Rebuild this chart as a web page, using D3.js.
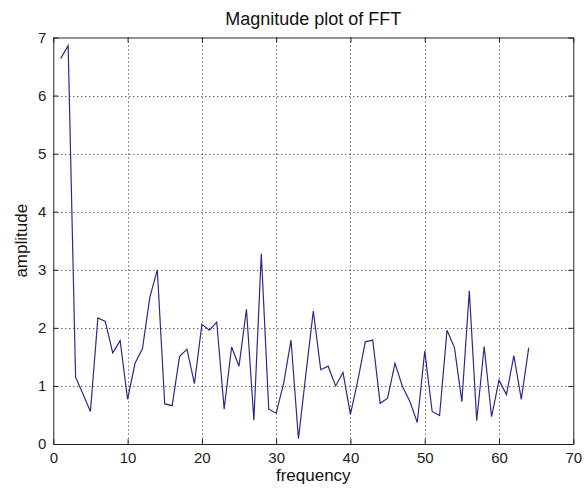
<!DOCTYPE html>
<html>
<head>
<meta charset="utf-8">
<script src="https://cdn.jsdelivr.net/npm/d3@7"></script>
<style>
  body { margin: 0; background: #fff; }
  svg { display: block; font-family: "Liberation Sans", Arial, sans-serif; }
</style>
</head>
<body>
<svg id="chart" width="586" height="491"></svg>
<script>
// frequency bins and FFT magnitude
let frequency = [1, 2, 3, 4, 5, 6, 7, 8, 9, 10, 11, 12, 13, 14, 15, 16,
  17, 18, 19, 20, 21, 22, 23, 24, 25, 26, 27, 28, 29, 30, 31, 32,
  33, 34, 35, 36, 37, 38, 39, 40, 41, 42, 43, 44, 45, 46, 47, 48,
  49, 50, 51, 52, 53, 54, 55, 56, 57, 58, 59, 60, 61, 62, 63, 64];
let amplitude = [6.64, 6.86, 1.15, 0.86, 0.56, 2.17, 2.11, 1.57, 1.78, 0.77, 1.39, 1.64, 2.53, 3.00, 0.69, 0.66,
  1.51, 1.63, 1.04, 2.06, 1.96, 2.10, 0.60, 1.67, 1.34, 2.32, 0.41, 3.28, 0.60, 0.53, 1.04, 1.79,
  0.09, 1.20, 2.29, 1.28, 1.34, 1.00, 1.23, 0.51, 1.10, 1.76, 1.79, 0.70, 0.79, 1.39, 0.99, 0.73,
  0.37, 1.60, 0.56, 0.49, 1.96, 1.66, 0.73, 2.64, 0.40, 1.68, 0.47, 1.10, 0.85, 1.52, 0.77, 1.66];

let xTicks = [0, 10, 20, 30, 40, 50, 60, 70];
let yTicks = [0, 1, 2, 3, 4, 5, 6, 7];

let titleText = 'Magnitude plot of FFT';
let xLabel = 'frequency';
let yLabel = 'amplitude';

let plotLeft = 53.3, plotRight = 573.3, plotTop = 37.5, plotBottom = 444;

let x = d3.scaleLinear().domain([0, 70]).range([plotLeft, plotRight]);
let y = d3.scaleLinear().domain([0, 7]).range([plotBottom, plotTop]);

let svg = d3.select('#chart');

// dotted grid
let grid = svg.append('g')
  .attr('stroke', '#222')
  .attr('stroke-width', 1)
  .attr('stroke-dasharray', '1,3');

grid.selectAll('.gx')
  .data(xTicks.slice(1, -1))
  .enter()
  .append('line')
  .attr('x1', d => Math.round(x(d)) + 0.5)
  .attr('x2', d => Math.round(x(d)) + 0.5)
  .attr('y1', plotTop)
  .attr('y2', plotBottom);

grid.selectAll('.gy')
  .data(yTicks.slice(1, -1))
  .enter()
  .append('line')
  .attr('x1', plotLeft)
  .attr('x2', plotRight)
  .attr('y1', d => Math.round(y(d)) + 0.5)
  .attr('y2', d => Math.round(y(d)) + 0.5);

// the data line
let line = d3.line()
  .x((d, i) => x(frequency[i]))
  .y(d => y(d));

svg.append('path')
  .datum(amplitude)
  .attr('d', line)
  .attr('fill', 'none')
  .attr('stroke', '#2b2b8a')
  .attr('stroke-width', 1.2);

// axes with inward ticks (box style)
let bottomAxis = svg.append('g')
  .attr('transform', `translate(0,${plotBottom})`)
  .call(d3.axisBottom(x).tickValues(xTicks).tickFormat(d3.format('d'))
    .tickSize(-5).tickPadding(8).tickSizeOuter(0));

let leftAxis = svg.append('g')
  .attr('transform', `translate(${plotLeft},0)`)
  .call(d3.axisLeft(y).tickValues(yTicks).tickFormat(d3.format('d'))
    .tickSize(-5).tickPadding(7).tickSizeOuter(0));

let topAxis = svg.append('g')
  .attr('transform', `translate(0,${plotTop})`)
  .call(d3.axisTop(x).tickValues(xTicks).tickSize(-5).tickFormat('').tickSizeOuter(0));

let rightAxis = svg.append('g')
  .attr('transform', `translate(${plotRight},0)`)
  .call(d3.axisRight(y).tickValues(yTicks).tickSize(-5).tickFormat('').tickSizeOuter(0));

[bottomAxis, leftAxis, topAxis, rightAxis].forEach(a => {
  a.selectAll('path, line').attr('stroke', '#222');
  a.selectAll('text')
    .attr('fill', '#222')
    .style('font-size', '15px')
    .style('font-family', '"Liberation Sans", Arial, sans-serif');
});

// title and labels
svg.append('text')
  .attr('x', (plotLeft + plotRight) / 2)
  .attr('y', 25)
  .attr('text-anchor', 'middle')
  .style('font-size', '18px')
  .attr('fill', '#111')
  .text(titleText);

svg.append('text')
  .attr('x', (plotLeft + plotRight) / 2)
  .attr('y', 481)
  .attr('text-anchor', 'middle')
  .style('font-size', '17px')
  .attr('fill', '#111')
  .text(xLabel);

svg.append('text')
  .attr('transform', `translate(27,${(plotTop + plotBottom) / 2}) rotate(-90)`)
  .attr('text-anchor', 'middle')
  .style('font-size', '17px')
  .attr('fill', '#111')
  .text(yLabel);
</script>
</body>
</html>
